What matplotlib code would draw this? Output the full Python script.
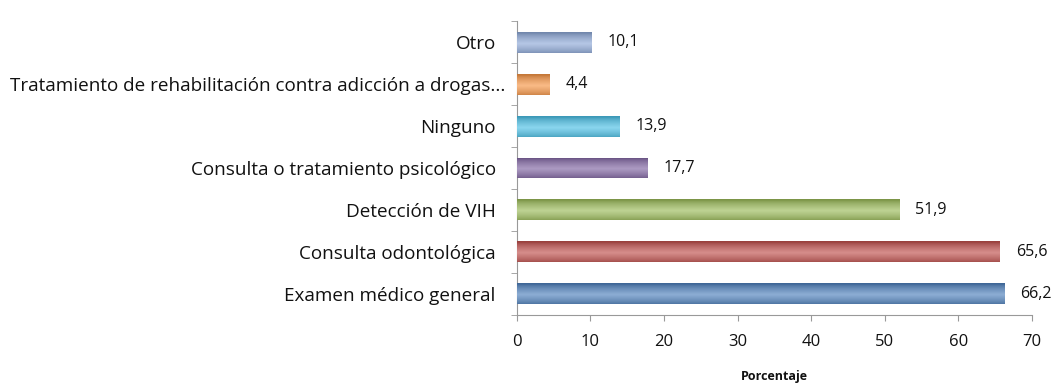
import numpy as np
import matplotlib
matplotlib.use("Agg")
import matplotlib.pyplot as plt
from matplotlib.colors import to_rgb
from matplotlib.transforms import ScaledTranslation

plt.rcParams['font.family'] = ['Open Sans', 'DejaVu Sans']

categories = [
    "Examen médico general",
    "Consulta odontológica",
    "Detección de VIH",
    "Consulta o tratamiento psicológico",
    "Ninguno",
    "Tratamiento de rehabilitación contra adicción a drogas...",
    "Otro",
]
values = [66.2, 65.6, 51.9, 17.7, 13.9, 4.4, 10.1]
colors = ["#4F81BD", "#C0504D", "#9BBB59", "#8064A2", "#4BC0E6", "#F79646", "#8EA9D8"]

fig = plt.figure(figsize=(10.61, 3.84), dpi=100)
ax = fig.add_axes([0.487, 0.180, 0.4857, 0.765])

y = np.arange(len(categories))
bars = ax.barh(y, values, height=0.5, color=colors, edgecolor='none', zorder=2)

# vertical shading on each bar: darker edges, lighter middle
t = np.linspace(0, 1, 64)
prof = 1 - np.abs(t - 0.45) * 2
for b, c in zip(bars, colors):
    base = np.array(to_rgb(c))
    light = base + (1 - base) * 0.35
    dark = base * 0.8
    grad = np.empty((64, 1, 3))
    for i, p in enumerate(prof):
        grad[i, 0] = dark + (light - dark) * np.clip(p, 0, 1) ** 0.7
    x0, y0 = b.get_x(), b.get_y()
    w, h = b.get_width(), b.get_height()
    im = ax.imshow(grad, extent=[x0, x0 + w, y0, y0 + h], aspect='auto',
                   origin='lower', zorder=3, interpolation='bilinear')
    im.set_clip_path(b)

txt = '#111111'
for yi, v in zip(y, values):
    ax.text(v + 2.2, yi, f"{v:.1f}".replace('.', ','), va='center', ha='left',
            fontsize=11.5, color=txt)

ax.set_xlim(0, 70)
ax.set_ylim(-0.5, len(categories) - 0.5)
ax.set_xticks(np.arange(0, 71, 10))
ax.set_yticks(y)
ax.set_yticklabels(categories, fontsize=13.6, color=txt)
ax.set_yticks(np.arange(-0.5, len(categories), 1), minor=True)
ax.tick_params(axis='y', which='major', length=0, pad=15)
ax.tick_params(axis='y', which='minor', length=4, color='#999999', direction='out')
ax.tick_params(axis='x', length=4, color='#999999', direction='out', labelsize=12,
               labelcolor=txt, pad=10)
ax.set_xlabel("Porcentaje", fontsize=9, fontweight='bold', color=txt, labelpad=14)

# the truncated long label sits closer to the axis
for lbl in ax.get_yticklabels():
    if lbl.get_text().endswith("..."):
        lbl.set_transform(lbl.get_transform() +
                          ScaledTranslation(10 / 100, 0, fig.dpi_scale_trans))

for s in ['top', 'right']:
    ax.spines[s].set_visible(False)
for s in ['left', 'bottom']:
    ax.spines[s].set_color('#999999')

fig.savefig("out.png", dpi=100)
